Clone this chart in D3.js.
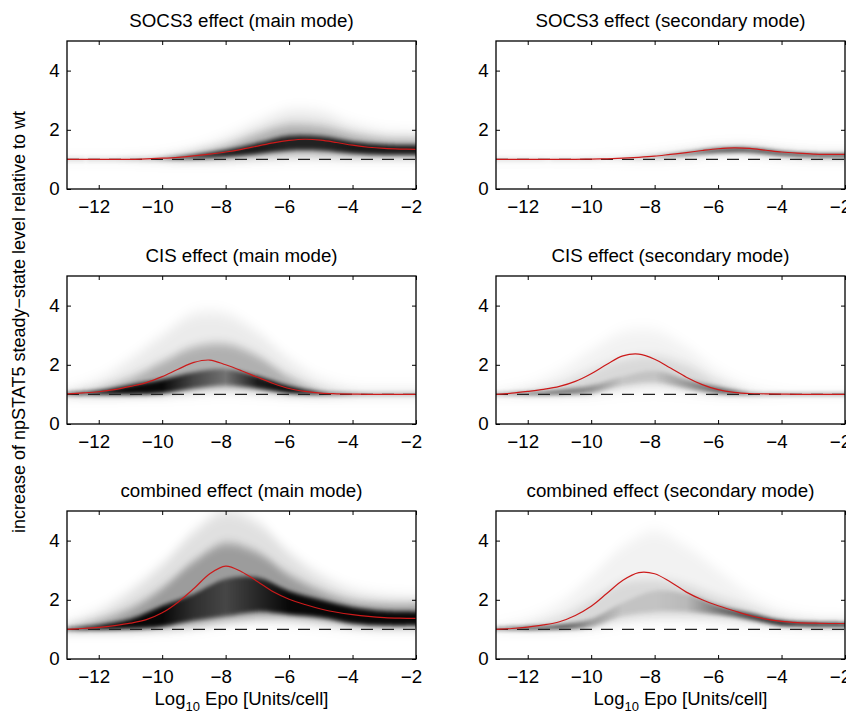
<!DOCTYPE html>
<html>
<head>
<meta charset="utf-8">
<script src="https://cdn.jsdelivr.net/npm/d3@7"></script>
<style>
  body { margin: 0; background: #fff; }
  text { font-family: "Liberation Sans", Arial, sans-serif; }
</style>
</head>
<body>
<script>
var xFine = [-13, -12.5, -12, -11.5, -11, -10.5, -10, -9.5, -9, -8.5, -8, -7.5,
             -7, -6.5, -6, -5.5, -5, -4.5, -4, -3.5, -3, -2.5, -2];
var xCoarse = [-13, -12, -11, -10, -9, -8, -7, -6, -5, -4, -3, -2];

var titles = ["SOCS3 effect (main mode)", "SOCS3 effect (secondary mode)",
              "CIS effect (main mode)", "CIS effect (secondary mode)",
              "combined effect (main mode)", "combined effect (secondary mode)"];
var xTicks = [-12, -10, -8, -6, -4, -2];
var yTicks = [0, 2, 4];

// red curves (on xFine)
var socsMainRed = [1.0, 1.0, 1.0, 1.0, 1.0, 1.02, 1.04, 1.07, 1.12, 1.18, 1.25, 1.34,
                   1.45, 1.56, 1.64, 1.68, 1.65, 1.57, 1.48, 1.41, 1.37, 1.35, 1.34];
var socsSecRed  = [1.0, 1.0, 1.0, 1.0, 1.0, 1.0, 1.01, 1.02, 1.04, 1.07, 1.11, 1.17,
                   1.23, 1.3, 1.36, 1.39, 1.37, 1.31, 1.25, 1.21, 1.18, 1.17, 1.17];
var cisMainRed  = [1.02, 1.05, 1.09, 1.16, 1.27, 1.4, 1.6, 1.85, 2.08, 2.16, 2.0, 1.8,
                   1.58, 1.37, 1.2, 1.1, 1.04, 1.02, 1.01, 1.0, 1.0, 1.0, 1.0];
var cisSecRed   = [1.0, 1.04, 1.1, 1.17, 1.27, 1.44, 1.7, 2.02, 2.3, 2.36, 2.19, 1.89,
                   1.58, 1.33, 1.16, 1.07, 1.03, 1.02, 1.01, 1.0, 1.0, 1.0, 1.0];
var combMainRed = [1.0, 1.03, 1.07, 1.13, 1.21, 1.33, 1.56, 1.92, 2.38, 2.88, 3.14, 2.95,
                   2.62, 2.27, 2.02, 1.84, 1.69, 1.58, 1.5, 1.44, 1.4, 1.38, 1.37];
var combSecRed  = [1.0, 1.03, 1.08, 1.15, 1.26, 1.47, 1.78, 2.22, 2.66, 2.92, 2.88, 2.6,
                   2.26, 2.0, 1.8, 1.63, 1.47, 1.35, 1.27, 1.23, 1.21, 1.2, 1.2];

// density bands (on xCoarse): [lower edge, upper edge]
var socsMainOuter = [[0.98, 0.98, 0.98, 0.98, 0.99, 1.0, 1.02, 1.05, 1.05, 1.05, 1.05, 1.05],
                     [1.02, 1.02, 1.03, 1.08, 1.3, 1.7, 2.2, 2.6, 2.55, 2.15, 1.9, 1.85]];
var socsMainMid   = [[0.99, 0.99, 0.99, 0.99, 1.0, 1.02, 1.08, 1.15, 1.15, 1.1, 1.1, 1.1],
                     [1.01, 1.01, 1.02, 1.06, 1.22, 1.45, 1.85, 2.15, 2.1, 1.85, 1.7, 1.68]];
var socsMainCore  = [[0.99, 0.99, 0.99, 1.0, 1.02, 1.08, 1.18, 1.3, 1.3, 1.2, 1.15, 1.15],
                     [1.01, 1.01, 1.02, 1.05, 1.16, 1.32, 1.55, 1.8, 1.78, 1.6, 1.5, 1.48]];
var socsMainDark  = [0.5, 0.5, 0.6, 0.7, 0.8, 0.85, 0.85, 0.8, 0.8, 0.85, 0.85, 0.85];

var socsSecOuter = [[0.98, 0.98, 0.98, 0.99, 1.0, 1.02, 1.08, 1.18, 1.18, 1.08, 1.03, 1.02],
                    [1.02, 1.02, 1.02, 1.03, 1.06, 1.14, 1.27, 1.41, 1.42, 1.3, 1.22, 1.21]];
var socsSecMid   = [[0.99, 0.99, 0.99, 0.99, 1.01, 1.04, 1.12, 1.24, 1.24, 1.13, 1.07, 1.06],
                    [1.01, 1.01, 1.01, 1.02, 1.05, 1.12, 1.24, 1.38, 1.39, 1.27, 1.19, 1.18]];
var socsSecCore  = [[0.99, 0.99, 0.99, 1.0, 1.02, 1.06, 1.15, 1.23, 1.24, 1.14, 1.09, 1.08],
                    [1.01, 1.01, 1.01, 1.02, 1.05, 1.11, 1.23, 1.37, 1.38, 1.26, 1.19, 1.18]];
var socsSecDark  = [0.45, 0.45, 0.45, 0.45, 0.5, 0.6, 0.7, 0.75, 0.75, 0.8, 0.85, 0.85];

var cisMainOuter = [[0.98, 0.98, 0.99, 1.0, 1.05, 1.1, 1.05, 1.0, 0.98, 0.98, 0.98, 0.98],
                    [1.1, 1.5, 2.2, 3.0, 3.7, 3.7, 3.1, 2.2, 1.5, 1.2, 1.15, 1.15]];
var cisMainMid   = [[0.99, 0.99, 1.0, 1.02, 1.12, 1.2, 1.12, 1.02, 0.99, 0.99, 0.99, 0.99],
                    [1.06, 1.2, 1.55, 2.1, 2.6, 2.7, 2.3, 1.6, 1.15, 1.05, 1.04, 1.04]];
var cisMainCore  = [[0.99, 1.0, 1.0, 1.04, 1.2, 1.3, 1.2, 1.04, 1.0, 0.99, 0.99, 0.99],
                    [1.05, 1.13, 1.32, 1.5, 1.75, 1.85, 1.62, 1.28, 1.08, 1.03, 1.02, 1.02]];
var cisMainDark  = [0.9, 0.95, 0.95, 0.95, 0.6, 0.35, 0.85, 0.95, 0.9, 0.85, 0.8, 0.8];

var cisSecOuter = [[0.98, 0.98, 0.99, 1.0, 1.1, 1.15, 1.08, 1.0, 0.98, 0.98, 0.98, 0.98],
                   [1.08, 1.3, 1.8, 2.5, 3.1, 3.15, 2.6, 1.8, 1.25, 1.06, 1.04, 1.04]];
var cisSecMid   = [[0.99, 0.99, 1.0, 1.04, 1.2, 1.3, 1.15, 1.02, 0.99, 0.99, 0.99, 0.99],
                   [1.05, 1.15, 1.35, 1.8, 2.2, 2.3, 2.0, 1.45, 1.1, 1.03, 1.02, 1.02]];
var cisSecCore  = [[0.99, 0.99, 1.0, 1.04, 1.3, 1.4, 1.2, 1.03, 0.99, 0.98, 0.98, 0.98],
                   [1.04, 1.07, 1.15, 1.3, 1.6, 1.8, 1.5, 1.25, 1.05, 1.02, 1.02, 1.02]];
var cisSecDark  = [0.6, 0.65, 0.55, 0.35, 0.1, 0.1, 0.3, 0.55, 0.7, 0.8, 0.8, 0.8];

var combMainOuter = [[0.98, 0.99, 1.0, 1.02, 1.1, 1.25, 1.35, 1.3, 1.2, 1.1, 1.05, 1.05],
                     [1.15, 1.6, 2.3, 3.2, 4.3, 5.0, 4.6, 3.6, 2.8, 2.3, 2.1, 2.05]];
var combMainMid   = [[0.99, 1.0, 1.0, 1.05, 1.15, 1.3, 1.4, 1.4, 1.3, 1.15, 1.1, 1.1],
                     [1.08, 1.3, 1.7, 2.4, 3.3, 3.9, 3.6, 2.85, 2.3, 1.95, 1.85, 1.85]];
var combMainCore  = [[0.99, 1.0, 1.02, 1.1, 1.3, 1.45, 1.6, 1.5, 1.4, 1.2, 1.13, 1.13],
                     [1.05, 1.15, 1.35, 1.8, 2.2, 2.7, 2.75, 2.3, 2.0, 1.75, 1.62, 1.6]];
var combMainDark  = [0.9, 0.95, 0.95, 0.95, 0.7, 0.55, 0.75, 0.95, 0.95, 0.95, 0.95, 0.95];

var combSecOuter = [[0.98, 0.99, 1.0, 1.05, 1.2, 1.3, 1.3, 1.25, 1.15, 1.08, 1.06, 1.06],
                    [1.1, 1.35, 1.9, 2.8, 3.8, 4.3, 3.8, 3.0, 2.2, 1.65, 1.4, 1.35]];
var combSecMid   = [[0.99, 1.0, 1.0, 1.08, 1.3, 1.4, 1.4, 1.35, 1.25, 1.12, 1.08, 1.08],
                    [1.05, 1.15, 1.4, 2.0, 2.6, 2.7, 2.5, 2.1, 1.75, 1.42, 1.3, 1.28]];
var combSecCore  = [[0.99, 1.0, 1.01, 1.08, 1.45, 1.6, 1.6, 1.5, 1.33, 1.13, 1.1, 1.1],
                    [1.05, 1.09, 1.15, 1.35, 1.9, 2.3, 2.2, 1.82, 1.55, 1.3, 1.23, 1.22]];
var combSecDark  = [0.85, 0.9, 0.75, 0.3, 0.1, 0.1, 0.15, 0.45, 0.7, 0.95, 0.95, 0.95];

// panel layout
var W = 846, H = 713;
var colX = [67, 496], rowY = [41, 276, 511];
var plotW = 349, plotH = 148;

var panels = [
  {red: socsMainRed, outer: socsMainOuter, mid: socsMainMid, core: socsMainCore, dark: socsMainDark, alpha: [0.1, 0.25]},
  {red: socsSecRed,  outer: socsSecOuter,  mid: socsSecMid,  core: socsSecCore,  dark: socsSecDark,  alpha: [0.08, 0.2]},
  {red: cisMainRed,  outer: cisMainOuter,  mid: cisMainMid,  core: cisMainCore,  dark: cisMainDark,  alpha: [0.08, 0.25]},
  {red: cisSecRed,   outer: cisSecOuter,   mid: cisSecMid,   core: cisSecCore,   dark: cisSecDark,   alpha: [0.05, 0.1]},
  {red: combMainRed, outer: combMainOuter, mid: combMainMid, core: combMainCore, dark: combMainDark, alpha: [0.12, 0.3]},
  {red: combSecRed,  outer: combSecOuter,  mid: combSecMid,  core: combSecCore,  dark: combSecDark,  alpha: [0.05, 0.1]}
];

var x = d3.scaleLinear().domain([-13, -2]).range([0, plotW]);
var y = d3.scaleLinear().domain([0, 5]).range([plotH, 0]);

var svg = d3.select("body").append("svg")
    .attr("width", W)
    .attr("height", H);

var defs = svg.append("defs");
defs.append("clipPath").attr("id", "plotclip")
  .append("rect").attr("width", plotW).attr("height", plotH);

// vertical-only blurs, softer for the wide faint bands
[["blurOuter", 7], ["blurMid", 5], ["blurCore", 2]].forEach(function(b) {
    defs.append("filter").attr("id", b[0])
        .attr("filterUnits", "userSpaceOnUse")
        .attr("x", -20).attr("y", -40).attr("width", plotW + 40).attr("height", plotH + 80)
      .append("feGaussianBlur").attr("stdDeviation", "0 " + b[1]);
});

var band = d3.area()
    .x(function(d, i) { return x(xCoarse[i]); })
    .y0(function(d) { return y(d[0]); })
    .y1(function(d) { return y(d[1]); })
    .curve(d3.curveCatmullRom);

var redLine = d3.line()
    .x(function(d, i) { return x(xFine[i]); })
    .y(function(d) { return y(d); })
    .curve(d3.curveCatmullRom);

var fontStack = '"Liberation Sans", Arial, sans-serif';

panels.forEach(function(p, k) {
    var col = k % 2, row = Math.floor(k / 2);
    var g = svg.append("g")
        .attr("transform", "translate(" + colX[col] + "," + rowY[row] + ")");

    // horizontal gradient carrying the darkness of the core band
    var grad = defs.append("linearGradient").attr("id", "core" + k)
        .attr("gradientUnits", "userSpaceOnUse")
        .attr("x1", x(-13)).attr("x2", x(-2)).attr("y1", 0).attr("y2", 0);
    grad.selectAll("stop").data(p.dark).enter().append("stop")
        .attr("offset", function(d, i) { return x(xCoarse[i]) / plotW; })
        .attr("stop-color", "#000")
        .attr("stop-opacity", function(d) { return d; });

    var dens = g.append("g").attr("clip-path", "url(#plotclip)");

    dens.append("path").attr("d", band(d3.zip(p.outer[0], p.outer[1])))
        .attr("filter", "url(#blurOuter)")
        .attr("fill", "#000").attr("fill-opacity", p.alpha[0]);
    dens.append("path").attr("d", band(d3.zip(p.mid[0], p.mid[1])))
        .attr("filter", "url(#blurMid)")
        .attr("fill", "#000").attr("fill-opacity", p.alpha[1]);
    dens.append("path").attr("d", band(d3.zip(p.core[0], p.core[1])))
        .attr("filter", "url(#blurCore)")
        .attr("fill", "url(#core" + k + ")");

    // wild-type reference
    g.append("line")
        .attr("x1", 0).attr("x2", plotW)
        .attr("y1", y(1)).attr("y2", y(1))
        .attr("stroke", "#222").attr("stroke-width", 1.4)
        .attr("stroke-dasharray", "12,9");

    g.append("path").attr("d", redLine(p.red))
        .attr("fill", "none").attr("stroke", "#cc1a1a").attr("stroke-width", 1.2);

    // axes, ticks pointing inwards on all four sides
    var ax = function(sel, shift) {
        sel.select(".domain").remove();
        sel.selectAll("line").attr("stroke", "#000");
        sel.selectAll("text").attr("fill", "#000")
            .attr("transform", "translate(" + shift + ",0) scale(1.04,1)")
            .style("font-size", "18px")
            .style("font-family", fontStack);
    };
    g.append("g").attr("transform", "translate(0," + plotH + ")")
        .call(d3.axisBottom(x).tickValues(xTicks).tickSize(-4).tickPadding(11))
        .call(ax, -5);
    g.append("g")
        .call(d3.axisTop(x).tickValues(xTicks).tickSize(-4).tickFormat(""))
        .call(ax, 0);
    g.append("g")
        .call(d3.axisLeft(y).tickValues(yTicks).tickFormat(d3.format("d"))
            .tickSize(-4).tickPadding(7))
        .call(ax, 0);
    g.append("g").attr("transform", "translate(" + plotW + ",0)")
        .call(d3.axisRight(y).tickValues(yTicks).tickSize(-4).tickFormat(""))
        .call(ax, 0);

    g.append("rect")
        .attr("width", plotW).attr("height", plotH)
        .attr("fill", "none").attr("stroke", "#000").attr("stroke-width", 1.3);

    g.append("text")
        .attr("transform", "translate(" + (plotW / 2) + ",-14.5) scale(1.04,1)")
        .attr("text-anchor", "middle")
        .style("font-size", "18px")
        .text(titles[k]);

    if (row === 2) {
        var lab = g.append("text")
            .attr("x", plotW / 2 + (col === 1 ? 10 : 0)).attr("y", plotH + 46)
            .attr("text-anchor", "middle")
            .style("font-size", "18.5px");
        lab.append("tspan").text("Log");
        lab.append("tspan").attr("dy", 6).style("font-size", "13px").text("10");
        lab.append("tspan").attr("dy", -6).text(" Epo [Units/cell]");
    }
});

svg.append("text")
    .attr("transform", "translate(25,322) rotate(-90)")
    .attr("text-anchor", "middle")
    .style("font-size", "18px")
    .text("increase of npSTAT5 steady\u2212state level relative to wt");
</script>
</body>
</html>
